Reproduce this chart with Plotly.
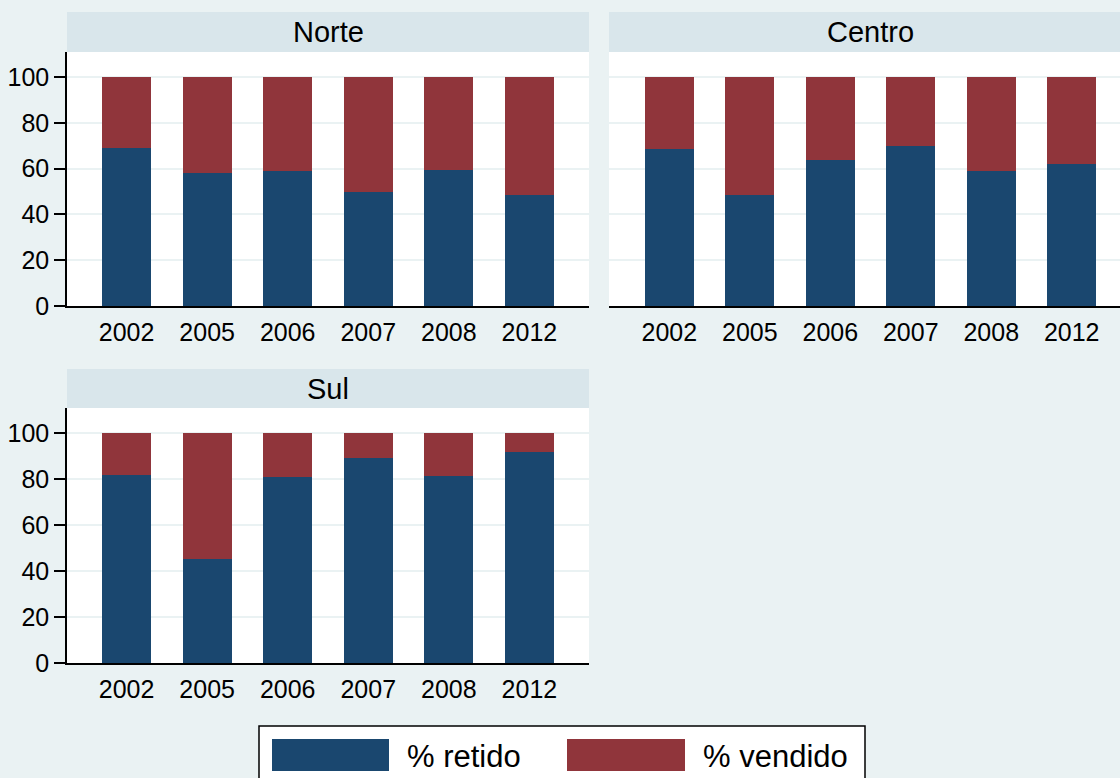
import plotly.graph_objects as go

# ---- data ----
years = ["2002", "2005", "2006", "2007", "2008", "2012"]
regions = ["Norte", "Centro", "Sul"]
retido_norte = [69, 58, 59, 50, 59.5, 48.5]
retido_centro = [68.7, 48.5, 63.8, 70, 58.8, 62.1]
retido_sul = [82, 45.4, 80.9, 89.1, 81.2, 91.7]
vendido_norte = [100 - v for v in retido_norte]
vendido_centro = [100 - v for v in retido_centro]
vendido_sul = [100 - v for v in retido_sul]
y_ticks = [0, 20, 40, 60, 80, 100]
legend_labels = ["% retido", "% vendido"]

W, H = 1120, 778
BLUE = "#1a476f"
RED = "#90353b"
BG = "#eaf2f3"
STRIP = "#d9e6eb"
FONT = "Arial, Liberation Sans, sans-serif"


def px(x):
    return x / W


def py(y):
    return 1 - y / H


fig = go.Figure()

panels = [
    ("x", "y", retido_norte, vendido_norte),
    ("x2", "y2", retido_centro, vendido_centro),
    ("x3", "y3", retido_sul, vendido_sul),
]
for xa, ya, ret, ven in panels:
    fig.add_trace(go.Bar(x=years, y=ret, name=legend_labels[0], marker=dict(color=BLUE, line=dict(width=0)),
                         width=0.61, xaxis=xa, yaxis=ya, showlegend=False))
    fig.add_trace(go.Bar(x=years, y=ven, name=legend_labels[1], marker=dict(color=RED, line=dict(width=0)),
                         width=0.61, xaxis=xa, yaxis=ya, showlegend=False))

# panel geometry (pixels)
norte_x = (67, 589)
centro_x = (609, 1120)
top_y = (52, 306)
bot_y = (408, 663)

xcommon = dict(type="category", showgrid=False, showline=True, linecolor="black", linewidth=1.5,
               ticks="outside", ticklen=3, tickcolor="rgba(0,0,0,0)", automargin=False,
               tickfont=dict(size=25, color="black", family=FONT), fixedrange=True)
ycommon = dict(range=[0, 111], tickvals=y_ticks, showgrid=True, gridcolor=BG, gridwidth=2,
               zeroline=False, automargin=False,
               tickfont=dict(size=25, color="black", family=FONT), fixedrange=True)

fig.update_layout(
    xaxis=dict(domain=[px(norte_x[0]), px(norte_x[1])], range=[-0.74, 5.74], anchor="y", **xcommon),
    yaxis=dict(domain=[py(top_y[1]), py(top_y[0])], anchor="x", showline=True, linecolor="black",
               linewidth=1.5, ticks="outside", ticklen=11, tickcolor="black", tickwidth=1.5, **ycommon),
    xaxis2=dict(domain=[px(centro_x[0]), px(centro_x[1])], range=[-0.75, 5.6], anchor="y2", **xcommon),
    yaxis2=dict(domain=[py(top_y[1]), py(top_y[0])], anchor="x2", showline=False, showticklabels=False,
                ticks="", **ycommon),
    xaxis3=dict(domain=[px(norte_x[0]), px(norte_x[1])], range=[-0.74, 5.74], anchor="y3", **xcommon),
    yaxis3=dict(domain=[py(bot_y[1]), py(bot_y[0])], anchor="x3", showline=True, linecolor="black",
                linewidth=1.5, ticks="outside", ticklen=11, tickcolor="black", tickwidth=1.5, **ycommon),
    barmode="stack",
    bargap=0.39,
    width=W, height=H,
    autosize=False,
    margin=dict(l=0, r=0, t=0, b=0, pad=0, autoexpand=False),
    paper_bgcolor=BG,
    plot_bgcolor="white",
    font=dict(family=FONT, color="black"),
    showlegend=False,
)

shapes = []
annotations = []
# strips
strips = [
    (norte_x[0], norte_x[1], 12, 52, regions[0], (67 + 589) / 2),
    (centro_x[0], 1120, 12, 52, regions[1], 870),
    (norte_x[0], norte_x[1], 369, 408, regions[2], (67 + 589) / 2),
]
for x0, x1, y0, y1, label, cx in strips:
    shapes.append(dict(type="rect", xref="paper", yref="paper", x0=px(x0), x1=px(x1), y0=py(y1), y1=py(y0),
                       fillcolor=STRIP, line=dict(width=0), layer="below"))
    annotations.append(dict(xref="paper", yref="paper", x=px(cx), y=py((y0 + y1) / 2), text=label,
                            showarrow=False, xanchor="center", yanchor="middle",
                            font=dict(size=29, color="black", family=FONT)))

# legend box
shapes.append(dict(type="rect", xref="paper", yref="paper", x0=px(259), x1=px(865), y0=py(795), y1=py(726),
                   fillcolor="white", line=dict(color="black", width=1.5)))
shapes.append(dict(type="rect", xref="paper", yref="paper", x0=px(272), x1=px(389), y0=py(771), y1=py(739),
                   fillcolor=BLUE, line=dict(width=0)))
shapes.append(dict(type="rect", xref="paper", yref="paper", x0=px(567), x1=px(685), y0=py(771), y1=py(739),
                   fillcolor=RED, line=dict(width=0)))
annotations.append(dict(xref="paper", yref="paper", x=px(405), y=py(756), text=legend_labels[0], showarrow=False,
                        xanchor="left", yanchor="middle", font=dict(size=31, color="black", family=FONT)))
annotations.append(dict(xref="paper", yref="paper", x=px(701), y=py(756), text=legend_labels[1], showarrow=False,
                        xanchor="left", yanchor="middle", font=dict(size=31, color="black", family=FONT)))

fig.update_layout(shapes=shapes, annotations=annotations)

post = (
    "document.documentElement.style.margin='0';"
    "document.documentElement.style.overflow='hidden';"
    "document.body.style.margin='0';"
    "document.body.style.overflow='hidden';"
    "var g=document.getElementsByClassName('plotly-graph-div')[0];"
    "g.style.position='fixed';g.style.top='0px';g.style.left='0px';"
)
fig.write_html("out.html", config={"displayModeBar": False}, post_script=post)
